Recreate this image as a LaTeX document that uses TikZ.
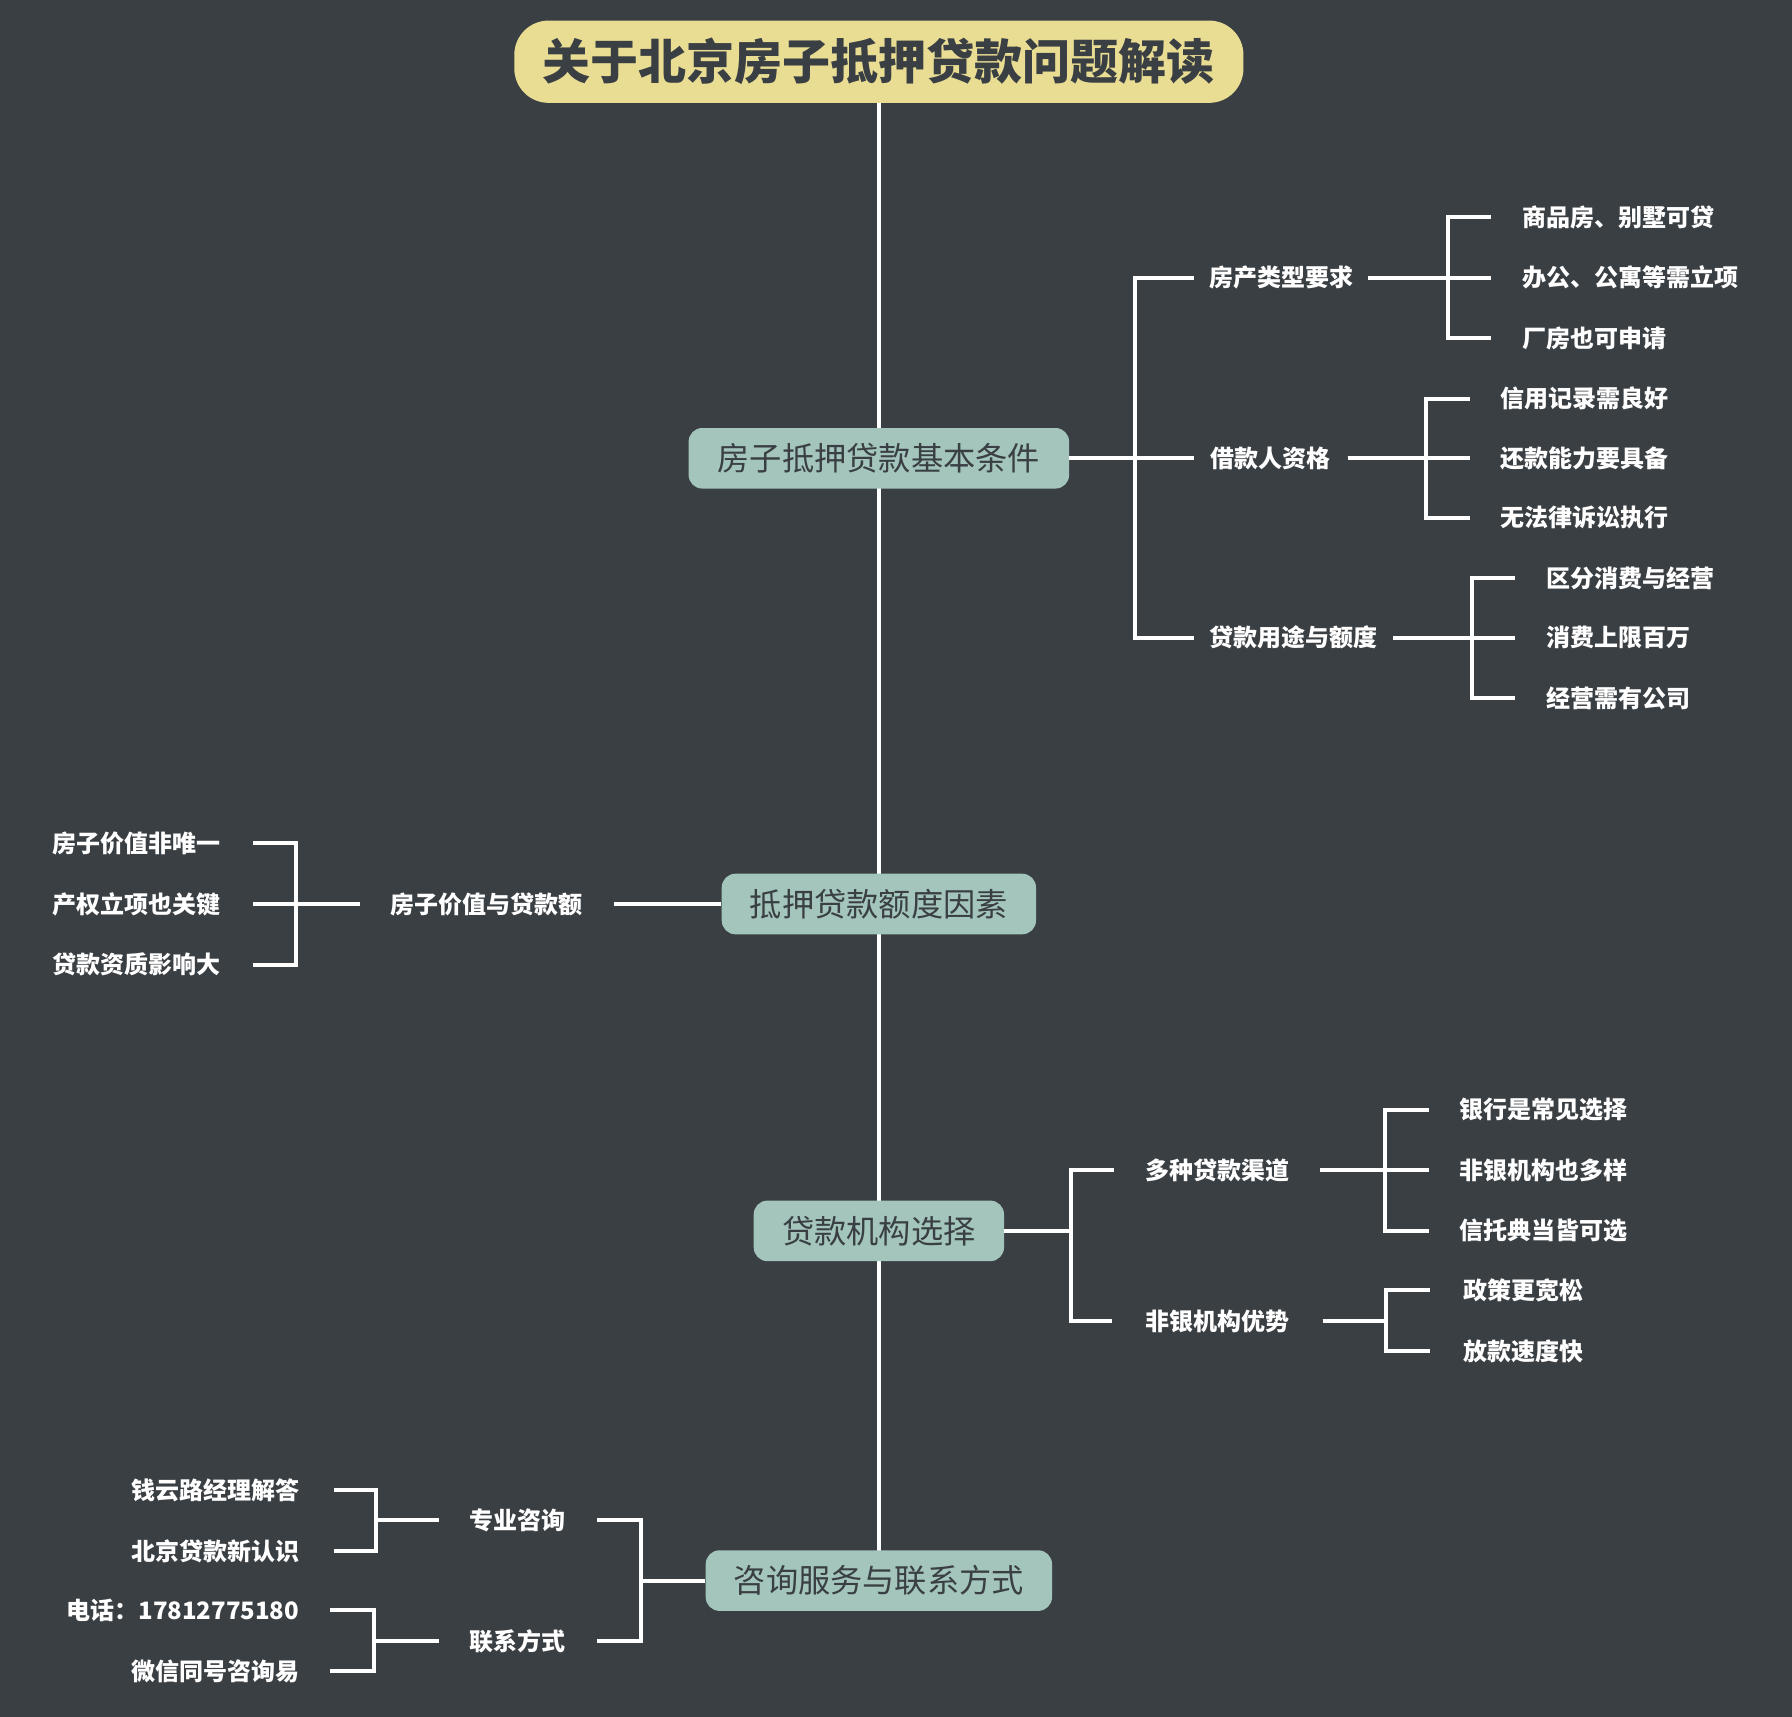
\documentclass[tikz,border=0pt]{standalone}
\usepackage{fontspec}
\setmainfont{Noto Sans CJK SC}
\begin{document}
\begin{tikzpicture}[x=1pt,y=-1pt,
 ln/.style={draw=white,line width=3.5pt},
 l1/.style={rounded corners=12pt,fill=box,text=txt,font=\fontsize{28.2}{31}\selectfont,minimum height=53pt,inner xsep=0pt},
 l2/.style={text=white,font=\bfseries\fontsize{21}{24}\selectfont,inner sep=0pt},
 lfw/.style={l2,anchor=west},
 lfe/.style={l2,anchor=east}]
\definecolor{bg}{HTML}{3A3F43}\definecolor{box}{HTML}{A3C5BC}\definecolor{txt}{HTML}{3A3F43}\definecolor{ttl}{HTML}{E9DD94}
\fill[bg] (0,0) rectangle (1568,1502);
\useasboundingbox (0,0) rectangle (1568,1502);
\draw[ln] (769,90) -- (769,1357);
\node[rounded corners=30pt,fill=ttl,text=txt,font=\bfseries\fontsize{42}{46}\selectfont,minimum width=638pt,minimum height=72pt,inner xsep=0pt] (t) at (769,54) {关于北京房子抵押贷款问题解读};
\node[l1,minimum width=333pt] (A) at (769,401) {房子抵押贷款基本条件};
\node[l1,minimum width=275pt] (B) at (769,791) {抵押贷款额度因素};
\node[l1,minimum width=219pt] (C) at (769,1077) {贷款机构选择};
\node[l1,minimum width=303pt] (D) at (769,1383) {咨询服务与联系方式};
% A
\node[l2,text width=152pt,align=center] (A1) at (1121,243) {房产类型要求};
\node[l2,text width=134pt,align=center] (A2) at (1112,401) {借款人资格};
\node[l2,text width=174pt,align=center] (A3) at (1132,558) {贷款用途与额度};
\foreach \c in {A1,A2,A3} \draw[ln] (A.east) -- (993,401) |- (\c.west);
\node[lfw] (a11) at (1332,190) {商品房、别墅可贷};
\node[lfw] (a12) at (1332,243) {办公、公寓等需立项};
\node[lfw] (a13) at (1332,296) {厂房也可申请};
\foreach \c in {a11,a12,a13} \draw[ln] (A1.east) -- (1267,243) |- ([xshift=-27pt]\c.west);
\node[lfw] (a21) at (1313,349) {信用记录需良好};
\node[lfw] (a22) at (1313,401) {还款能力要具备};
\node[lfw] (a23) at (1313,453) {无法律诉讼执行};
\foreach \c in {a21,a22,a23} \draw[ln] (A2.east) -- (1248,401) |- ([xshift=-27pt]\c.west);
\node[lfw] (a31) at (1353,506) {区分消费与经营};
\node[lfw] (a32) at (1353,558) {消费上限百万};
\node[lfw] (a33) at (1353,611) {经营需有公司};
\foreach \c in {a31,a32,a33} \draw[ln] (A3.east) -- (1288,558) |- ([xshift=-27pt]\c.west);
% B
\node[l2,text width=222pt,align=center] (B1) at (426,791) {房子价值与贷款额};
\draw[ln] (B.west) -- (B1.east);
\node[lfe] (b1) at (193,738) {房子价值非唯一};
\node[lfe] (b2) at (193,791) {产权立项也关键};
\node[lfe] (b3) at (193,844) {贷款资质影响大};
\foreach \c in {b1,b2,b3} \draw[ln] (B1.west) -- (259,791) |- ([xshift=28pt]\c.east);
% C
\node[l2,text width=180pt,align=center] (C1) at (1065,1024) {多种贷款渠道};
\node[l2,text width=184pt,align=center] (C2) at (1065,1156) {非银机构优势};
\foreach \c in {C1,C2} \draw[ln] (C.east) -- (937,1077) |- (\c.west);
\node[lfw] (c11) at (1277,971) {银行是常见选择};
\node[lfw] (c12) at (1277,1024) {非银机构也多样};
\node[lfw] (c13) at (1277,1077) {信托典当皆可选};
\foreach \c in {c11,c12,c13} \draw[ln] (C1.east) -- (1212,1024) |- ([xshift=-27pt]\c.west);
\node[lfw] (c21) at (1280,1129) {政策更宽松};
\node[lfw] (c22) at (1280,1182) {放款速度快};
\foreach \c in {c21,c22} \draw[ln] (C2.east) -- (1213,1156) |- ([xshift=-29pt]\c.west);
% D
\node[l2,text width=138pt,align=center] (D1) at (453,1330) {专业咨询};
\node[l2,text width=138pt,align=center] (D2) at (453,1436) {联系方式};
\foreach \c in {D1,D2} \draw[ln] (D.west) -- (561,1383) |- (\c.east);
\node[lfe] (d11) at (262,1304) {钱云路经理解答};
\node[lfe] (d12) at (262,1357) {北京贷款新认识};
\foreach \c in {d11,d12} \draw[ln] (D1.west) -- (329,1330) |- ([xshift=30pt]\c.east);
\node[lfe] (d21) at (262,1409) {电话：17812775180};
\node[lfe] (d22) at (262,1462) {微信同号咨询易};
\foreach \c in {d21,d22} \draw[ln] (D2.west) -- (327,1436) |- ([xshift=27pt]\c.east);
\end{tikzpicture}
\end{document}
